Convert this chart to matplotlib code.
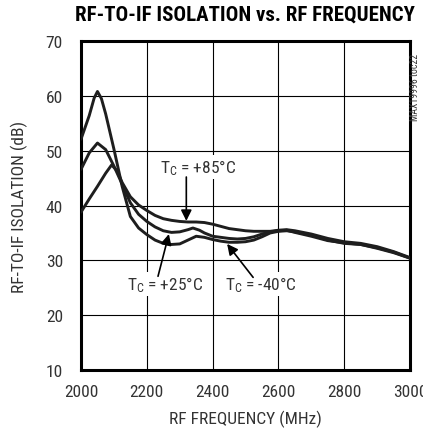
import matplotlib
matplotlib.use('Agg')
import matplotlib.pyplot as plt
from matplotlib import font_manager

# data (MHz, dB)
freq_m40 = [2000, 2025, 2040, 2050, 2062, 2075, 2100, 2125, 2150, 2175, 2200, 2225, 2250,
            2275, 2300, 2325, 2350, 2375, 2400, 2425, 2450, 2475, 2500, 2525, 2550,
            2575, 2600, 2625, 2650, 2700, 2750, 2800, 2850, 2900, 2950, 3000]
iso_m40 = [52.1, 56.4, 59.6, 60.8, 59.5, 56.7, 50.3, 43.5, 38.0, 35.9, 34.7, 33.7, 33.1,
           32.9, 33.0, 33.7, 34.4, 34.2, 33.8, 33.5, 33.3, 33.3, 33.4, 33.7, 34.3,
           35.0, 35.3, 35.4, 35.2, 34.6, 33.7, 33.1, 32.9, 32.3, 31.5, 30.4]

freq_p25 = [2000, 2025, 2050, 2075, 2100, 2125, 2150, 2175, 2200, 2225, 2250, 2275, 2300,
            2325, 2340, 2360, 2375, 2400, 2425, 2450, 2475, 2500, 2525, 2550, 2575,
            2600, 2625, 2650, 2700, 2750, 2800, 2850, 2900, 2950, 3000]
iso_p25 = [46.6, 49.6, 51.4, 50.2, 47.2, 43.9, 40.5, 38.4, 37.1, 36.1, 35.4, 35.1, 35.2,
           35.6, 35.9, 35.5, 35.0, 34.4, 34.2, 34.0, 33.9, 34.0, 34.3, 34.8, 35.2,
           35.4, 35.5, 35.1, 34.4, 33.6, 33.2, 32.9, 32.2, 31.4, 30.4]

freq_p85 = [2000, 2025, 2050, 2075, 2093, 2110, 2125, 2150, 2175, 2200, 2225, 2250, 2275,
            2300, 2325, 2350, 2375, 2400, 2425, 2450, 2475, 2500, 2525, 2550, 2575,
            2600, 2625, 2650, 2700, 2750, 2800, 2850, 2900, 2950, 3000]
iso_p85 = [38.8, 41.2, 43.5, 45.9, 47.4, 46.3, 44.2, 41.6, 40.1, 39.1, 38.2, 37.6, 37.3,
           37.1, 37.0, 37.0, 36.9, 36.6, 36.2, 35.8, 35.6, 35.4, 35.3, 35.3, 35.3,
           35.5, 35.6, 35.4, 34.8, 34.0, 33.4, 33.1, 32.5, 31.6, 30.5]

x_ticks = [2000, 2200, 2400, 2600, 2800, 3000]
y_ticks = [10, 20, 30, 40, 50, 60, 70]

# look for a narrow face, otherwise condensed DejaVu
names = {f.name for f in font_manager.fontManager.ttflist}
narrow = None
for n in ['Liberation Sans Narrow', 'Roboto Condensed', 'Open Sans Condensed', 'DejaVu Sans']:
    if n in names:
        narrow = n
        break
plt.rcParams['font.family'] = [narrow, 'DejaVu Sans']
plt.rcParams['font.stretch'] = 'condensed'
plt.rcParams['mathtext.fontset'] = 'custom'
plt.rcParams['mathtext.rm'] = narrow + ':stretch=condensed'
plt.rcParams['mathtext.it'] = narrow + ':stretch=condensed'

fig = plt.figure(figsize=(4.23, 4.35), dpi=100)
ax = fig.add_axes([0.1915, 0.147, 0.778, 0.7564])

line_col = '#1e1e1e'
for f, v in [(freq_m40, iso_m40), (freq_p25, iso_p25), (freq_p85, iso_p85)]:
    ax.plot(f, v, color=line_col, lw=2.1, solid_capstyle='round', zorder=3)

ax.set_xlim(2000, 3000)
ax.set_ylim(10, 70)
ax.set_xticks(x_ticks)
ax.set_yticks(y_ticks)
ax.grid(True, color='black', lw=0.8)
ax.tick_params(length=0, labelsize=12.5, colors='#333333')
ax.tick_params(axis='y', pad=13)
ax.tick_params(axis='x', pad=10)
for s in ax.spines.values():
    s.set_linewidth(2.2)

ax.set_xlabel('RF FREQUENCY (MHz)', fontsize=12.5, color='#333333', labelpad=8)
ax.set_ylabel('RF-TO-IF ISOLATION (dB)', fontsize=12.5, color='#333333', labelpad=13)
fig.text(0.578, 0.966, 'RF-TO-IF ISOLATION vs. RF FREQUENCY', ha='center', va='center',
         fontsize=15, fontweight='bold')
fig.text(0.981, 0.80, 'MAX19996 toc22', rotation=90, ha='center', va='center',
         fontsize=7, color='#333333')

arrow = dict(arrowstyle='-|>', lw=1.2, color='black', mutation_scale=16, shrinkA=0, shrinkB=0)
box = dict(facecolor='white', edgecolor='none', pad=1.5)
ax.text(2356, 47.0, r'$\mathrm{T_C}$ = +85°C', ha='center', va='center',
        fontsize=12.5, color='#333333', bbox=box, zorder=4)
ax.annotate('', xy=(2320, 37.2), xytext=(2320, 45.2), arrowprops=arrow, zorder=5)
ax.text(2254, 25.7, r'$\mathrm{T_C}$ = +25°C', ha='center', va='center',
        fontsize=12.5, color='#333333', bbox=box, zorder=4)
ax.annotate('', xy=(2267, 34.8), xytext=(2234, 27.1), arrowprops=arrow, zorder=5)
ax.text(2547, 25.7, r'$\mathrm{T_C}$ = -40°C', ha='center', va='center',
        fontsize=12.5, color='#333333', bbox=box, zorder=4)
ax.annotate('', xy=(2444, 33.0), xytext=(2523, 26.9), arrowprops=arrow, zorder=5)

fig.savefig('out.png', dpi=100)
